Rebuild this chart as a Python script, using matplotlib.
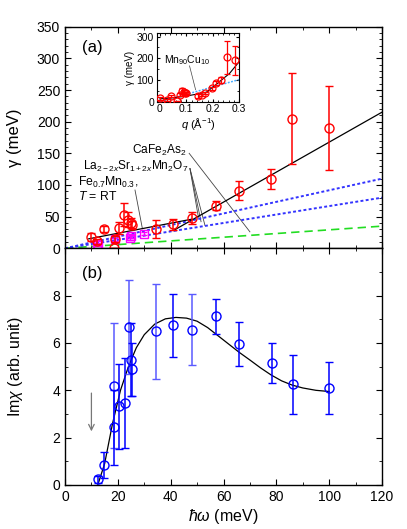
import matplotlib
matplotlib.use("Agg")
import matplotlib.pyplot as plt
from matplotlib.ticker import MultipleLocator

plt.rcParams['font.family'] = ['Liberation Sans', 'DejaVu Sans']
plt.rcParams['mathtext.fontset'] = 'custom'
plt.rcParams['mathtext.rm'] = 'Liberation Sans'
plt.rcParams['mathtext.it'] = 'Liberation Sans:italic'
plt.rcParams['mathtext.bf'] = 'Liberation Sans:bold'

# ---------------- panel (a) data ----------------
a_x = [9.7, 12.0, 14.9, 18.7, 18.9, 20.6, 22.3, 24.0, 24.8, 25.4, 34.3, 41.0, 48.0, 57.0, 65.9, 78.0, 85.8, 100.0]
a_y = [18, 11, 30, 1, 15, 32, 53, 45, 40, 37, 30, 38, 48, 67, 91, 110, 205, 190]
a_err = [6, 4, 5, 0, 5, 10, 18, 12, 8, 6, 14, 9, 10, 7, 15, 16, 72, 66]

sq_x = [12.0, 12.4, 19.0, 24.5, 25.0, 30.0]
sq_y = [7, 5, 14, 16, 19, 23]
sq_err = [2, 2, 2, 3, 2, 2]

fitA_x = [9.0, 48.0]
fitA_y = [15.0, 46.0]
fitB_x = [41.0, 120.0]
fitB_y = [28.0, 215.0]
blue1_x = [0, 120]
blue1_y = [0, 110]
blue2_x = [0, 120]
blue2_y = [0, 80]
green_x = [0, 120]
green_y = [0, 35]

# inset data
in_q = [0.0, 0.027, 0.042, 0.066, 0.077, 0.083, 0.090, 0.095, 0.100, 0.145, 0.160, 0.170, 0.195, 0.213, 0.232, 0.253, 0.285]
in_g = [15, 8, 25, 3, 33, 50, 45, 38, 40, 26, 30, 40, 63, 86, 102, 204, 190]
in_err = [5, 4, 5, 0, 6, 15, 10, 8, 6, 8, 6, 6, 7, 10, 14, 75, 65]
in_fit_q = [0.0, 0.05, 0.10, 0.14, 0.176, 0.213, 0.263, 0.30]
in_fit_g = [13, 18, 26, 35, 44, 80, 130, 185]
in_lin_q = [0.0, 0.30]
in_lin_g = [0, 102]

# ---------------- panel (b) data ----------------
b_x = [12.5, 14.9, 18.7, 18.7, 20.6, 22.6, 24.3, 24.8, 25.2, 34.3, 41.0, 47.9, 57.0, 65.9, 78.2, 86.2, 100.0]
b_y = [0.25, 0.85, 4.2, 2.43, 3.33, 3.46, 6.67, 5.29, 4.88, 6.49, 6.74, 6.55, 7.13, 5.95, 5.15, 4.26, 4.09]
b_err = [0.15, 0.55, 2.65, 1.58, 1.8, 1.9, 2.0, 1.55, 1.1, 2.0, 1.32, 1.5, 0.74, 0.93, 0.83, 1.25, 1.1]
b_light = [0, 0, 1, 0, 0, 0, 1, 0, 0, 1, 0, 1, 0, 0, 0, 0, 0]

b_fit_x = [12.4, 15, 18, 21, 24, 27, 30, 34, 38, 42, 46, 50, 54, 58, 62, 66, 70, 74, 78, 82, 86, 90, 95, 100]
b_fit_y = [0.0, 0.9, 2.6, 4.0, 5.0, 5.8, 6.35, 6.8, 7.02, 7.08, 7.05, 6.92, 6.65, 6.3, 5.95, 5.6, 5.28, 4.95, 4.65, 4.4, 4.22, 4.1, 4.0, 3.95]

W, H = 407, 529
fig = plt.figure(figsize=(W / 100, H / 100), dpi=100)

L, R = 65 / W, 382 / W
axA = fig.add_axes([L, 1 - 248.3 / H, R - L, (248.3 - 26.7) / H])
axB = fig.add_axes([L, 1 - 485 / H, R - L, (485 - 248.3) / H])

RED = '#ff0000'
BLUE = '#0000ff'

# ---- panel (a)
axA.plot(green_x, green_y, color='#22dd22', ls=(0, (5, 3)), lw=1.2, zorder=2)
axA.plot(blue1_x, blue1_y, color='#3333ff', ls=(0, (1.5, 1.2)), lw=1.4, zorder=2)
axA.plot(blue2_x, blue2_y, color='#3333ff', ls=(0, (1.5, 1.2)), lw=1.4, zorder=2)
axA.plot(fitA_x, fitA_y, color='black', lw=0.9, zorder=3)
axA.plot(fitB_x, fitB_y, color='black', lw=0.9, zorder=3)
axA.errorbar(sq_x, sq_y, yerr=sq_err, fmt='s', ms=6, mfc='none', mec='#ff00ff',
             ecolor='#ff00ff', elinewidth=1, capsize=2.5, mew=1, zorder=4)
axA.errorbar(a_x, a_y, yerr=a_err, fmt='o', ms=6.5, mfc='none', mec=RED,
             ecolor=RED, elinewidth=1.1, capsize=3, mew=1, zorder=5)

axA.set_xlim(0, 120)
axA.set_ylim(0, 350)
axA.yaxis.set_major_locator(MultipleLocator(50))
axA.yaxis.set_minor_locator(MultipleLocator(10))
axA.xaxis.set_major_locator(MultipleLocator(20))
axA.xaxis.set_minor_locator(MultipleLocator(10))
axA.tick_params(which='both', direction='in', top=True, right=True, labelbottom=False, labelsize=10)
axA.tick_params(which='major', length=4)
axA.tick_params(which='minor', length=2)
axA.set_ylabel('γ (meV)', fontsize=12)
axA.yaxis.set_label_coords(-0.135, 0.5)
axA.text(0.055, 0.885, '(a)', transform=axA.transAxes, fontsize=12)

# annotations
ann = dict(color='#444444', lw=0.6, zorder=1)
axA.text(46, 155, 'CaFe$_2$As$_2$', ha='right', va='center', fontsize=8.6)
axA.plot([47, 70], [150, 26], **ann)
axA.text(46.7, 130, 'La$_{2\u22122x}$Sr$_{1+2x}$Mn$_2$O$_7$', ha='right', va='center', fontsize=8.6)
for ex, ey in [(50.5, 49), (51.5, 42), (53, 36)]:
    axA.plot([47.3, ex], [126, ey], **ann)
axA.text(5, 94, 'Fe$_{0.7}$Mn$_{0.3}$,\n$T$ = RT', ha='left', va='center', fontsize=8.8,
         linespacing=1.0)
axA.plot([26.5, 29.3], [92, 31], **ann)

# inset
axI = fig.add_axes([156.7 / W, 1 - 101.7 / H, (239.3 - 156.7) / W, (101.7 - 33.3) / H])
axI.plot(in_lin_q, in_lin_g, color='#44aaff', ls=(0, (1.2, 1.0)), lw=1.1, zorder=2)
axI.plot(in_fit_q, in_fit_g, color='black', lw=0.8, zorder=3)
axI.errorbar(in_q, in_g, yerr=in_err, fmt='o', ms=5, mfc='none', mec=RED,
             ecolor=RED, elinewidth=0.9, capsize=2.5, mew=0.9, zorder=4)
axI.set_xlim(-0.012, 0.3)
axI.set_ylim(0, 315)
axI.xaxis.set_major_locator(MultipleLocator(0.1))
axI.xaxis.set_minor_locator(MultipleLocator(0.02))
axI.yaxis.set_major_locator(MultipleLocator(100))
axI.yaxis.set_minor_locator(MultipleLocator(50))
axI.set_xticks([0, 0.1, 0.2, 0.3])
axI.set_xticklabels(['0', '0.1', '0.2', '0.3'])
axI.tick_params(which='both', direction='in', top=True, right=True, labelsize=7.5, pad=2)
axI.tick_params(which='major', length=2.5)
axI.tick_params(which='minor', length=1.2)
axI.set_ylabel('γ (meV)', fontsize=7, labelpad=1)
axI.set_xlabel('$q$ (Å$^{-1}$)', fontsize=8, labelpad=1)
axI.text(0.014, 190, 'Mn$_{90}$Cu$_{10}$', fontsize=7.5, va='center')
axI.plot([0.112, 0.135], [165, 55], color='#444444', lw=0.5)

# ---- panel (b)
axB.plot(b_fit_x, b_fit_y, color='black', lw=0.9, zorder=3)
for xi, yi, ei, li in zip(b_x, b_y, b_err, b_light):
    c = '#5a5aff' if li else BLUE
    axB.errorbar([xi], [yi], yerr=[ei], fmt='none', ecolor=c, elinewidth=1.1, capsize=3, zorder=4)
axB.plot(b_x, b_y, 'o', ms=6.5, mfc='none', mec=BLUE, mew=1, zorder=5)
axB.annotate('', xy=(10, 2.15), xytext=(10, 4.0),
             arrowprops=dict(arrowstyle='->', color='#777777', lw=0.9))

axB.set_xlim(0, 120)
axB.set_ylim(0, 10)
axB.xaxis.set_major_locator(MultipleLocator(20))
axB.xaxis.set_minor_locator(MultipleLocator(10))
axB.yaxis.set_major_locator(MultipleLocator(2))
axB.yaxis.set_minor_locator(MultipleLocator(1))
axB.set_yticks([0, 2, 4, 6, 8])
axB.tick_params(which='both', direction='in', top=True, right=True, labelsize=10)
axB.tick_params(which='major', length=4)
axB.tick_params(which='minor', length=2)
axB.set_ylabel('Im$\\chi$ (arb. unit)', fontsize=11.5)
axB.yaxis.set_label_coords(-0.125, 0.5)
axB.set_xlabel('$\\hbar\\omega$ (meV)', fontsize=11.5, labelpad=2)
axB.text(0.055, 0.875, '(b)', transform=axB.transAxes, fontsize=12)

for ax in (axA, axB):
    for s in ax.spines.values():
        s.set_linewidth(1.0)

fig.savefig('out.png', dpi=100)
